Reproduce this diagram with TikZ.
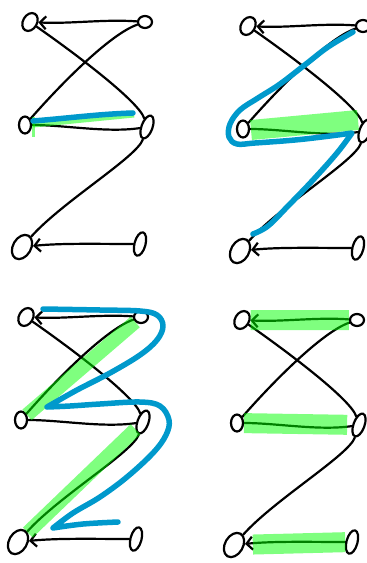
\documentclass[tikz,border=0pt]{standalone}
\usetikzlibrary{shapes.geometric, arrows.meta}
\definecolor{walkblue}{RGB}{0,153,204}

\begin{document}
\begin{tikzpicture}[x=1pt, y=-1pt,
    vtx/.style={draw, ellipse, line width=2.2pt, inner sep=0pt},
    edge/.style={line width=2.2pt, line cap=round},
    tip/.style={-{Straight Barb[length=6pt, width=13pt]}},
    hlband/.style={draw=green, opacity=0.5, line width=#1},
    walk/.style={draw=walkblue, line width=5.5pt, line cap=round, line join=round}]
  \useasboundingbox (0,0) rectangle (367,563);

  % Grundgraph in allen vier Feldern
  \foreach \p/\dx/\dy in {a/0/0, b/218/4, c/-4/295, d/212/298}{
    \begin{scope}[shift={(\dx,\dy)}]
      % Knoten
      \node[vtx, minimum width=14pt, minimum height=19pt, rotate=-30] (\p-tl) at (30,22) {};
      \node[vtx, minimum width=14pt, minimum height=12pt] (\p-tr) at (145,22) {};
      \node[vtx, minimum width=12pt, minimum height=17pt] (\p-ml) at (25,125) {};
      \node[vtx, minimum width=11pt, minimum height=24pt, rotate=-20] (\p-mr) at (147,127) {};
      \node[vtx, minimum width=18pt, minimum height=26pt, rotate=-30] (\p-bl) at (22,247) {};
      \node[vtx, minimum width=11pt, minimum height=24pt, rotate=-15] (\p-br) at (140,244) {};
      % Kanten
      \draw[edge, tip] (\p-tr) .. controls +(-40,-3) and +(40,2) .. (\p-tl);
      \draw[edge] (\p-tl) .. controls +(50,35) and +(-8,-25) .. (\p-mr);
      \draw[edge] (\p-tr) .. controls +(-35,12) and +(35,-40) .. (\p-ml);
      \draw[edge] (\p-ml) .. controls +(40,0) and +(-40,6) .. (\p-mr);
      \draw[edge] (\p-mr) .. controls +(-10,30) and +(40,-45) .. (\p-bl);
      \draw[edge, tip] (\p-br) .. controls +(-40,0) and +(40,-4) .. (\p-bl);
    \end{scope}
  }

  % Feld 1: eine Kante
  \draw[hlband=7pt] (33,124) -- (134,114);
  \draw[hlband=3pt] (33,117) -- (33,137);
  \draw[walk] (33,121) .. controls (70,118) and (100,114) .. (133,113);

  % Feld 2: Weg durch den Graphen
  \draw[hlband=20pt] (251,130) -- (358,120);
  \draw[walk] plot[smooth, tension=0.6] coordinates {(353,32) (328,47) (306,64) (280,84) (258,98) (240,110) (230,124) (229,137) (237,144) (255,143) (295,140) (330,136) (352,133)}
    -- plot[smooth, tension=0.6] coordinates {(352,133) (337,153) (313,180) (288,206) (268,226) (253,234)};

  % Feld 3: Zickzack
  \draw[hlband=14pt] (c-tr) -- (c-ml);
  \draw[hlband=14pt] (c-mr) -- (c-bl);
  \draw[walk] plot[smooth, tension=0.6] coordinates {(43,309) (100,310) (140,311) (157,315) (163,326) (157,340) (140,355) (110,373) (77,390) (47,407)}
    -- plot[smooth, tension=0.6] coordinates {(47,407) (70,406) (100,404) (140,402) (160,406) (169,420) (166,435) (153,453) (127,477) (100,497) (73,513) (53,528)}
    -- plot[smooth, tension=0.6] coordinates {(53,528) (83,524) (118,522)};

  % Feld 4: drei waagrechte Kanten
  \draw[hlband=20pt] (d-tl) -- (d-tr);
  \draw[hlband=20pt, shorten >=5pt] (d-ml) -- (d-mr);
  \draw[hlband=20pt, shorten <=8pt] (d-bl) -- (d-br);
\end{tikzpicture}
\end{document}
